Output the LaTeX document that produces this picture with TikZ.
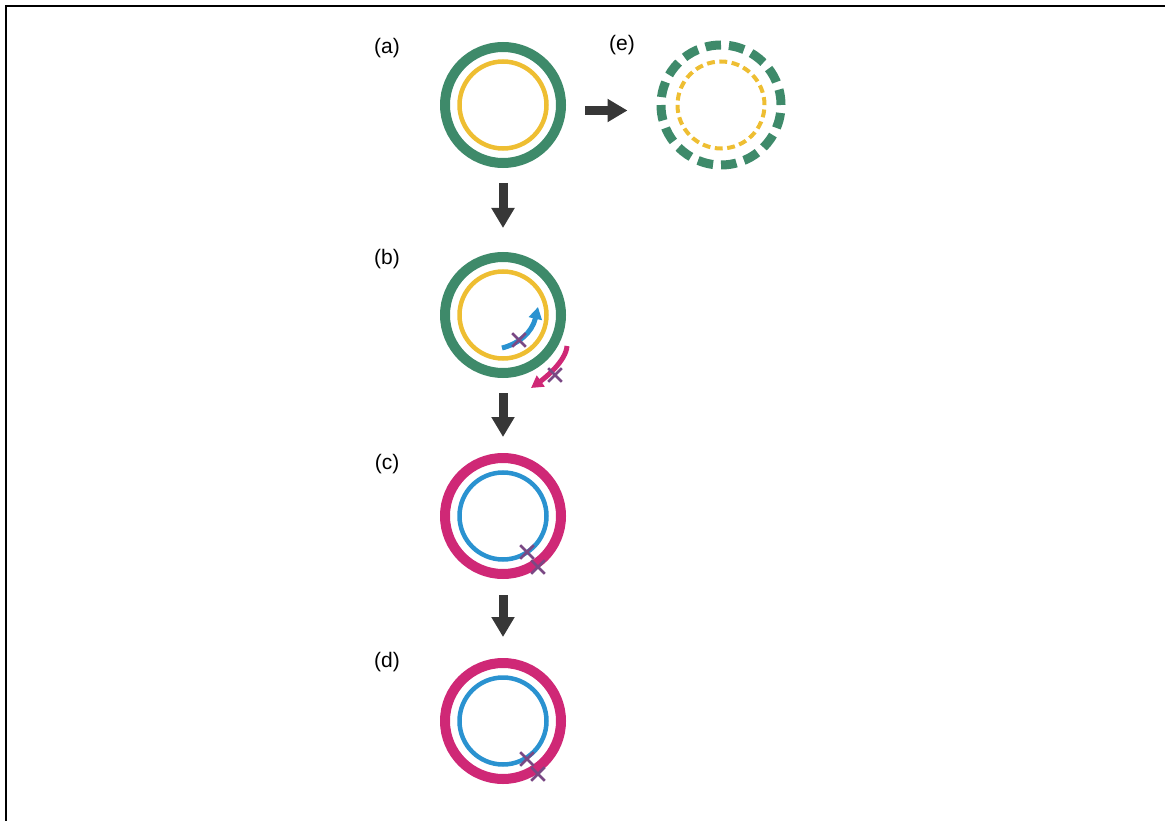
\documentclass[tikz,border=0pt]{standalone}
\usepackage{fontspec}
\setmainfont{Liberation Sans}
\usetikzlibrary{arrows.meta,shapes.misc}
\definecolor{ringgreen}{RGB}{62,138,106}
\definecolor{ringyellow}{RGB}{238,190,50}
\definecolor{ringmagenta}{RGB}{207,40,118}
\definecolor{ringblue}{RGB}{42,146,208}
\definecolor{nickpurple}{RGB}{122,72,132}
\definecolor{flowgray}{RGB}{55,55,55}
\begin{document}
\begin{tikzpicture}[x=1pt,y=-1pt,
  outerring/.style={circle,inner sep=0pt,minimum size=116pt,line width=10pt,outer sep=5pt},
  innerring/.style={circle,inner sep=0pt,minimum size=87pt,line width=4.5pt,outer sep=2.25pt},
  flow/.style={draw=flowgray,line width=9pt,-{Triangle[width=22pt,length=20pt]},color=flowgray},
  nick/.style={cross out,draw=nickpurple,line width=2.6pt,minimum size=11pt,inner sep=0pt},
  stagelabel/.style={inner sep=0pt,font=\fontsize{21}{24}\selectfont},
  strand/.style={line width=5pt,-{Triangle[width=13pt,length=12pt]}}]
\useasboundingbox (0,0) rectangle (1165,821);
% frame
\draw[line width=2pt,black] (6,821) -- (6,6) -- (1165,6);

% stage labels
\node[stagelabel] (la) at (387,48) {(a)};
\node[stagelabel] (lb) at (387,259) {(b)};
\node[stagelabel] (lc) at (387,464) {(c)};
\node[stagelabel] (ld) at (387,662) {(d)};
\node[stagelabel] (le) at (622,45) {(e)};

% (a)
\node[outerring,draw=ringgreen] (ringA) at (503,105) {};
\node[innerring,draw=ringyellow] (coreA) at (503,105) {};

% (e) dashed rings
\node[circle,inner sep=0pt,minimum size=120pt,line width=9pt,outer sep=4.5pt,
      draw=ringgreen,dash pattern=on 15.6pt off 7.96pt] (ringE) at (721,105) {};
\node[circle,inner sep=0pt,minimum size=87pt,line width=4pt,
      draw=ringyellow,dash pattern=on 7.9pt off 4.52pt] (coreE) at (721,105) {};

% (b)
\node[outerring,draw=ringgreen] (ringB) at (503,315) {};
\node[innerring,draw=ringyellow] (coreB) at (503,315) {};
\coordinate (btail) at (502,348);
\coordinate (bhead) at (538,307);
\draw[strand,ringblue] (btail) .. controls (518,344) and (532,333) .. (bhead);
\node[nick] (nb1) at (519,340) {};
\coordinate (mtail) at (567,346);
\coordinate (mhead) at (531,388);
\draw[strand,ringmagenta] (mtail) .. controls (566,361) and (545,378) .. (mhead);
\node[nick] (nb2) at (555,375) {};

% (c)
\node[outerring,draw=ringmagenta] (ringC) at (503,516) {};
\node[innerring,draw=ringblue] (coreC) at (503,516) {};
\node[nick] (nc1) at (527,552) {};
\node[nick] (nc2) at (538,567) {};

% (d)
\node[outerring,draw=ringmagenta] (ringD) at (503,721) {};
\node[innerring,draw=ringblue] (coreD) at (503,721) {};
\node[nick] (nd1) at (527,759) {};
\node[nick] (nd2) at (538,774) {};

% process arrows
\draw[flow,shorten <=15pt,shorten >=24pt] (ringA) -- (ringB);
\draw[flow,shorten <=15pt,shorten >=16pt] (ringB) -- (ringC);
\draw[flow,shorten <=16pt,shorten >=21pt] (ringC) -- (ringD);
\draw[flow,shorten <=19pt,shorten >=29pt] ([yshift=-5.5pt]ringA.east) -- ([yshift=-5.5pt]ringE.west);
\end{tikzpicture}
\end{document}
